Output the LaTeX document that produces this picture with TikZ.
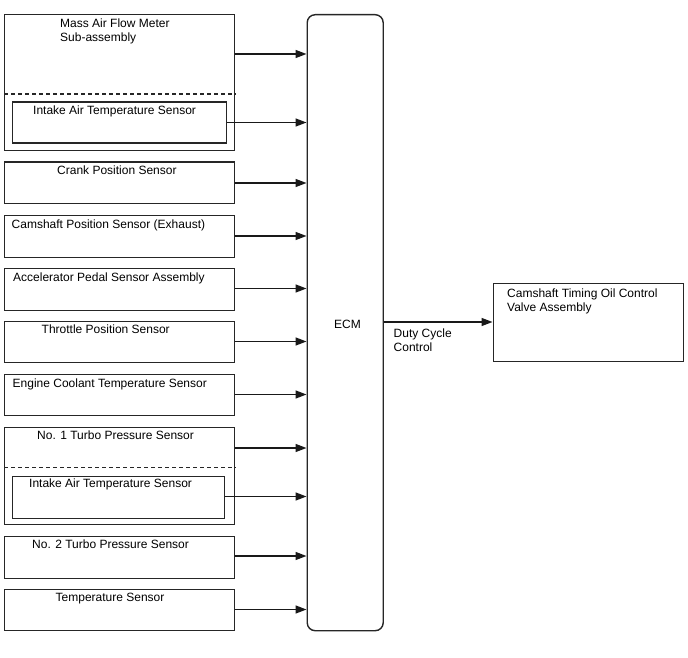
\documentclass[tikz,border=0pt]{standalone}
\usepackage{fontspec}
\setmainfont{Liberation Sans}
\usetikzlibrary{arrows.meta}

\tikzset{
  box/.style={draw=black!85, line width=1.4pt, anchor=north west, inner sep=0pt},
  txt/.style={anchor=base west, inner sep=0pt, align=left, font=\fontsize{12}{14}\selectfont},
  sig/.style={-{Triangle[length=11pt,width=8pt]}, line width=1.4pt, black!90},
  sep/.style={draw=black!85, line width=1.3pt, dash pattern=on 4pt off 3pt}
}

\begin{document}
\begin{tikzpicture}[x=1pt, y=-1pt]
	\useasboundingbox (0,0) rectangle (688,658);

	%ECM
	\node[box, rounded corners=8pt, minimum width=76pt, minimum height=616pt] (ecm) at (306.5,14) {};
	\node[txt] (ecmtxt) at (334,328) {ECM};

	%mass air flow meter
	\node[box, minimum width=230pt, minimum height=136pt] (maf) at (4,14) {};
	\node[txt] (maftxt) at (60,42) {Mass Air Flow Meter\\Sub-assembly};
	\draw[sep] (maf.west |- 0,94) -- (maf.east |- 0,94);
	\node[box, minimum width=214pt, minimum height=41pt] (iat1) at (12,101.5) {};
	\node[txt] (iat1txt) at (33,115) {Intake Air Temperature Sensor};
	\draw[sig] (maf.east |- 0,54) -- (ecm.west |- 0,54);
	\draw[sig] (iat1.east |- 0,122.5) -- (ecm.west |- 0,122.5);

	%single sensors
	\node[box, minimum width=230pt, minimum height=41.5pt] (ckp) at (4,161.5) {};
	\node[txt] (ckptxt) at (57,174.5) {Crank Position Sensor};
	\draw[sig] (ckp.east |- 0,183) -- (ecm.west |- 0,183);

	\node[box, minimum width=230pt, minimum height=41.5pt] (cmp) at (4,215) {};
	\node[txt] (cmptxt) at (11.5,228.5) {Camshaft Position Sensor (Exhaust)};
	\draw[sig] (cmp.east |- 0,236) -- (ecm.west |- 0,236);

	\node[box, minimum width=230pt, minimum height=41.5pt] (app) at (4,268) {};
	\node[txt] (apptxt) at (13,281) {Accelerator Pedal Sensor Assembly};
	\draw[sig] (app.east |- 0,288.5) -- (ecm.west |- 0,288.5);

	\node[box, minimum width=230pt, minimum height=41.5pt] (tps) at (4,320.5) {};
	\node[txt] (tpstxt) at (41.5,333.5) {Throttle Position Sensor};
	\draw[sig] (tps.east |- 0,341.5) -- (ecm.west |- 0,341.5);

	\node[box, minimum width=230pt, minimum height=41.5pt] (ect) at (4,373.5) {};
	\node[txt] (ecttxt) at (12.5,387.5) {Engine Coolant Temperature Sensor};
	\draw[sig] (ect.east |- 0,394.5) -- (ecm.west |- 0,394.5);

	%turbo pressure sensor 1
	\node[box, minimum width=230pt, minimum height=97pt] (tp1) at (4,427) {};
	\node[txt] (tp1txt) at (37,439.5) {No. 1 Turbo Pressure Sensor};
	\draw[sep] (tp1.west |- 0,467.5) -- (tp1.east |- 0,467.5);
	\node[box, minimum width=212pt, minimum height=42pt] (iat2) at (12,475.5) {};
	\node[txt] (iat2txt) at (29,487.5) {Intake Air Temperature Sensor};
	\draw[sig] (tp1.east |- 0,448) -- (ecm.west |- 0,448);
	\draw[sig] (iat2.east |- 0,496.5) -- (ecm.west |- 0,496.5);

	\node[box, minimum width=230pt, minimum height=41.5pt] (tp2) at (4,536) {};
	\node[txt] (tp2txt) at (32,548) {No. 2 Turbo Pressure Sensor};
	\draw[sig] (tp2.east |- 0,556) -- (ecm.west |- 0,556);

	\node[box, minimum width=230pt, minimum height=41.5pt] (tmp) at (4,588.5) {};
	\node[txt] (tmptxt) at (55.5,601.5) {Temperature Sensor};
	\draw[sig] (tmp.east |- 0,609.5) -- (ecm.west |- 0,609.5);

	%oil control valve
	\node[box, minimum width=190pt, minimum height=78pt] (ocv) at (492.5,282.5) {};
	\node[txt] (ocvtxt) at (507,311) {Camshaft Timing Oil Control\\Valve Assembly};
	\draw[sig] (ecm.east |- 0,322) -- (ocv.west |- 0,322);
	\node[txt] (duty) at (393.5,351.5) {Duty Cycle\\Control};
\end{tikzpicture}
\end{document}
